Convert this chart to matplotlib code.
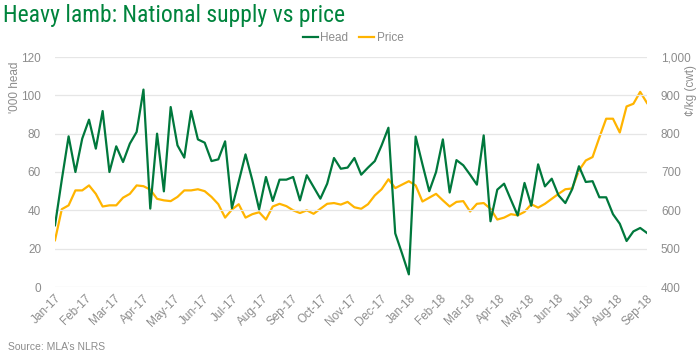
import matplotlib
matplotlib.use("Agg")
import matplotlib.pyplot as plt
import numpy as np

months = ["Jan-17", "Feb-17", "Mar-17", "Apr-17", "May-17", "Jun-17", "Jul-17",
          "Aug-17", "Sep-17", "Oct-17", "Nov-17", "Dec-17", "Jan-18", "Feb-18",
          "Mar-18", "Apr-18", "May-18", "Jun-18", "Jul-18", "Aug-18", "Sep-18"]

head = [32.2, 56, 78.6, 60, 77.4, 87.3, 72.2, 91.8, 60, 73.4, 65.2, 74.8, 80.9, 103,
        40.9, 80, 49.9, 93.9, 73.9, 67.5, 91.8, 77, 75.3, 65.7, 66.6, 76, 41.2, 55,
        69.2, 55.7, 40.5, 57.4, 44.9, 56, 56, 57.4, 45.2, 58.3, 52.2, 46.1, 53.9, 67.3,
        61.7, 62.3, 67.3, 58.6, 62.3, 65.7, 73.9, 83.1, 28, 17.5, 6.6, 78.5, 64, 50,
        60, 77, 49.3, 66.2, 63.5, 58.6, 53.4, 79.1, 34.3, 50.8, 53.9, 45.5, 37.3, 54.3,
        42.4, 64, 52.5, 56.5, 47.8, 43.8, 51, 63, 54.8, 55.2, 46.8, 46.8, 38, 33,
        24, 29, 30.8, 28.2]

price = [522, 603, 613, 652, 652, 665, 643, 610, 613, 613, 633, 643, 665, 663,
         654, 630, 626, 624, 635, 652, 652, 655, 650, 635, 616, 581, 602, 616,
         581, 590, 595, 576, 610, 617, 611, 600, 593, 600, 591, 604, 617, 619,
         615, 622, 608, 604, 616, 639, 655, 681, 658, 667, 676, 665, 623, 633,
         643, 626, 610, 622, 624, 597, 617, 619, 604, 576, 581, 590, 587, 596,
         616, 607, 617, 630, 643, 655, 657, 704, 730, 739, 790, 839, 839, 803,
         871, 878, 909, 880]

GREEN = "#00783C"
GOLD = "#FFB400"
GREY = "#8C8C8C"

plt.rcParams["font.family"] = ["Liberation Sans", "DejaVu Sans"]

fig = plt.figure(figsize=(7.0, 3.58), dpi=100)
ax = fig.add_axes([55/700, 1-287/358, (647-55)/700, (287-57)/358])
ax2 = ax.twinx()

x = np.arange(len(head))
l1, = ax.plot(x, head, color=GREEN, lw=1.6, label="Head", zorder=3)
l2, = ax2.plot(x, price, color=GOLD, lw=1.6, label="Price", zorder=2)
ax.set_zorder(ax2.get_zorder() + 1)
ax.patch.set_visible(False)

ax.set_xlim(0, len(head) - 1)
ax.set_ylim(0, 120)
ax2.set_ylim(400, 1000)
ax.set_yticks(np.arange(0, 121, 20))
ax2.set_yticks(np.arange(400, 1001, 100))
ax2.set_yticklabels([f"{v:,}" for v in range(400, 1001, 100)])

ticks = np.linspace(0, len(head) - 1, len(months))
ax.set_xticks(ticks)
ax.set_xticklabels(months, rotation=45, ha="right", rotation_mode="anchor")

for a in (ax, ax2):
    for s in a.spines.values():
        s.set_visible(False)
    a.tick_params(length=0, colors=GREY, labelsize=8.5)
ax.tick_params(axis="y", pad=10)
ax2.tick_params(axis="y", pad=10)
ax.tick_params(axis="x", pad=4)
ax.grid(axis="y", color="#E6E6E6", lw=0.9, zorder=0)
ax.set_axisbelow(True)

fig.text(15/700, 1-87/358, "'000 head", rotation=90, color=GREY, fontsize=8.5,
         ha="center", va="center")
fig.text(691/700, 1-90/358, "¢/kg (cwt)", rotation=90, color=GREY, fontsize=8.5,
         ha="center", va="center")

fig.text(3/700, 1-22/358, "Heavy lamb: National supply vs price", color="#00843D",
         fontsize=17, family=["Roboto Condensed", "Open Sans Condensed", "Liberation Sans"],
         ha="left", va="baseline")

fig.legend(handles=[l1, l2], loc="center", bbox_to_anchor=(353/700, 1-38/358),
           ncol=2, frameon=False, fontsize=8.5, labelcolor=GREY, handlelength=1.3,
           handletextpad=0.2, columnspacing=0.9)

fig.text(8/700, 1-347/358, "Source: MLA\u2019s NLRS", color=GREY, fontsize=7.5,
         ha="left", va="center")

fig.savefig("out.png", dpi=100)
